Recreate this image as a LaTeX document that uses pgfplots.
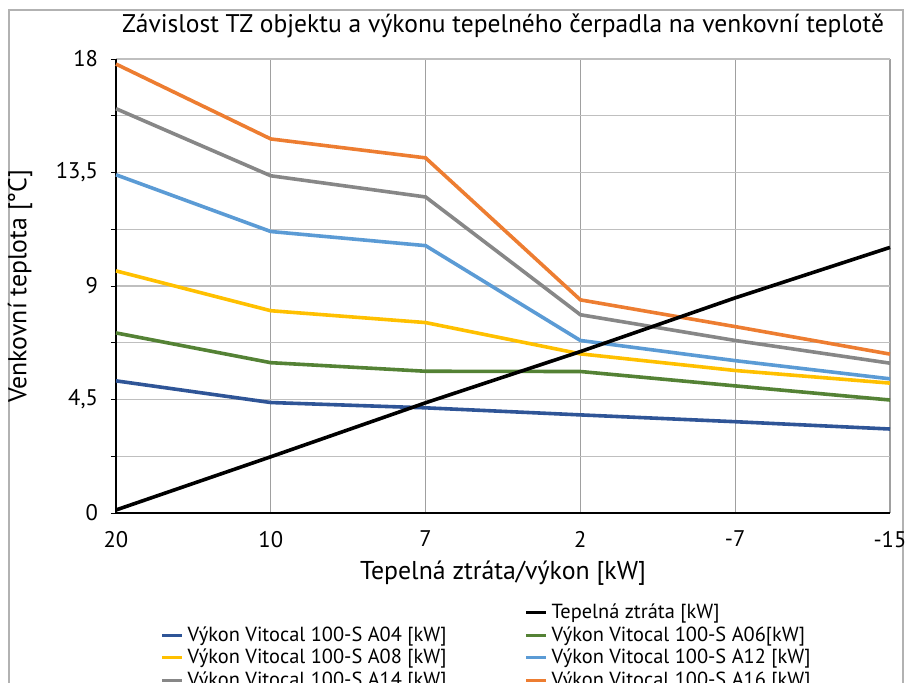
\documentclass[border=0pt]{standalone}
\usepackage{fontspec}
\setmainfont{PT Sans}
\usepackage{pgfplots}
\pgfplotsset{compat=1.18}
\definecolor{cA04}{HTML}{2F5597}
\definecolor{cA06}{HTML}{548235}
\definecolor{cA08}{HTML}{FFC000}
\definecolor{cA12}{HTML}{5B9BD5}
\definecolor{cA14}{HTML}{878787}
\definecolor{cA16}{HTML}{ED7D31}
\definecolor{gridh}{HTML}{BFBFBF}
\definecolor{gridv}{HTML}{A0A0A0}
\pgfplotstableread{
x  tz     a04   a06   a08   a12    a14    a16
0  0.12   5.24  7.14  9.60  13.41  16.03  17.80
1  2.23   4.38  5.96  8.02  11.16  13.37  14.83
2  4.37   4.17  5.62  7.55  10.60  12.53  14.08
3  6.40   3.89  5.61  6.31  6.84   7.86   8.45
4  8.53   3.62  5.04  5.65  6.04   6.84   7.39
5  10.53  3.33  4.48  5.15  5.32   5.94   6.30
}\data
\begin{document}
\begin{tikzpicture}
\useasboundingbox (0,0) rectangle (452.5pt,341pt);
\clip (0,0) rectangle (452.5pt,341pt);
\draw[gray!60, line width=0.6pt] (4.5pt,-5pt) -- (4.5pt,336pt) -- (451.5pt,336pt) -- (451.5pt,-5pt);
\begin{axis}[
  at={(58pt,84.5pt)}, anchor=south west,
  scale only axis, width=387pt, height=227pt,
  xmin=0, xmax=5, ymin=0, ymax=18,
  clip=false,
  axis lines=left,
  axis line style={-, black, line width=1pt},
  xtick={0,1,2,3,4,5},
  xticklabels={20,10,7,2,-7,-15},
  ytick={0,4.5,9,13.5,18},
  yticklabels={0,{4,5},9,{13,5},18},
  minor ytick={2.25,6.75,11.25,15.75},
  tick align=outside,
  xtick style={draw=none},
  ytick style={black, line width=0.5pt},
  major tick length=2.5pt, minor tick length=2.5pt,
  xmajorgrids, ymajorgrids, yminorgrids,
  x grid style={gridv, line width=0.6pt},
  y grid style={gridh, line width=0.6pt},
  minor y grid style={gridh, line width=0.6pt},
  tick label style={font=\fontsize{11.3}{13}\selectfont},
  xticklabel style={yshift=-3pt},
  yticklabel style={xshift=-3pt},
  title={Závislost TZ objektu a výkonu tepelného čerpadla na venkovní teplotě},
  title style={at={(axis description cs:0.5,1)}, anchor=center, yshift=10.5pt, font=\fontsize{12.75}{15}\selectfont},
  xlabel={Tepelná ztráta/výkon [kW]},
  xlabel style={at={(axis description cs:0.5,0)}, anchor=center, yshift=-30pt, font=\fontsize{12.9}{15}\selectfont},
  ylabel={Venkovní teplota [°C]},
  ylabel style={at={(axis description cs:-0.124,0.5)}, anchor=center, font=\fontsize{12.9}{15}\selectfont},
  legend columns=2,
  legend style={at={(axis description cs:0.057,-0.19)}, anchor=north west, draw=none, fill=none,
    font=\fontsize{10.2}{12}\selectfont, inner sep=0pt, row sep=-1.5pt,
    /tikz/every even column/.append style={column sep=37pt}},
  legend cell align=left,
  legend image code/.code={\draw[#1, line width=1.6pt] (0pt,0pt) -- (10pt,0pt);},
]
\addplot[cA04, line width=1.8pt, forget plot] table[x=x, y=a04] {\data};
\addplot[cA06, line width=1.8pt, forget plot] table[x=x, y=a06] {\data};
\addplot[cA08, line width=1.8pt, forget plot] table[x=x, y=a08] {\data};
\addplot[cA12, line width=1.8pt, forget plot] table[x=x, y=a12] {\data};
\addplot[cA14, line width=1.8pt, forget plot] table[x=x, y=a14] {\data};
\addplot[cA16, line width=1.8pt, forget plot] table[x=x, y=a16] {\data};
\addplot[black, line width=1.8pt, forget plot] table[x=x, y=tz] {\data};
\addlegendimage{empty legend}\addlegendentry{}
\addlegendimage{black}\addlegendentry{Tepelná ztráta [kW]}
\addlegendimage{cA04}\addlegendentry{Výkon Vitocal 100-S A04 [kW]}
\addlegendimage{cA06}\addlegendentry{Výkon Vitocal 100-S A06[kW]}
\addlegendimage{cA08}\addlegendentry{Výkon Vitocal 100-S A08 [kW]}
\addlegendimage{cA12}\addlegendentry{Výkon Vitocal 100-S A12 [kW]}
\addlegendimage{cA14}\addlegendentry{Výkon Vitocal 100-S A14 [kW]}
\addlegendimage{cA16}\addlegendentry{Výkon Vitocal 100-S A16 [kW]}
\end{axis}
\end{tikzpicture}
\end{document}
